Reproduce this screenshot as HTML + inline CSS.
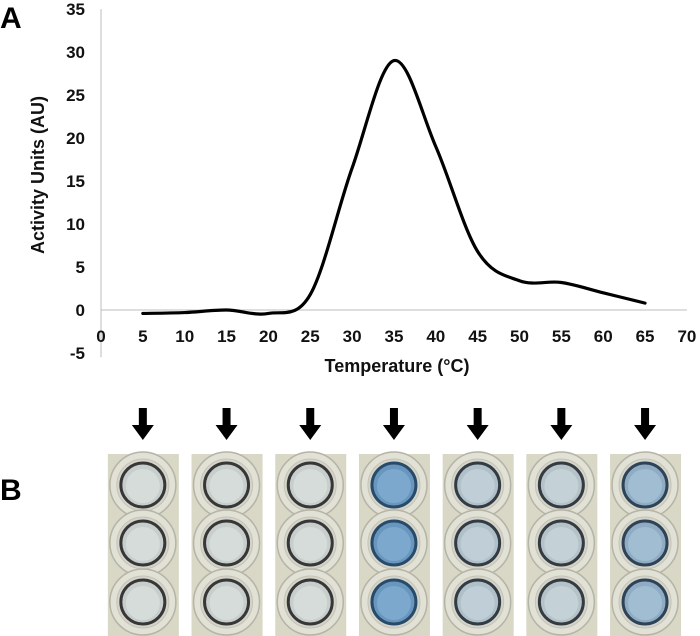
<!DOCTYPE html>
<html><head><meta charset="utf-8"><style>
html,body{margin:0;padding:0;background:#fff;}
svg{display:block;font-family:"Liberation Sans",sans-serif;}
</style></head><body>
<svg width="700" height="636" viewBox="0 0 700 636" id="chart">
<g id="axes"></g><g id="plot"></g><g id="wells"></g>
</svg>
<script>
const temps = [5,10,15,20,25,30,35,40,45,50,55,60,65];
const activity = [-0.4,-0.3,0.0,-0.4,1.8,16.5,29.0,19.0,6.8,3.4,3.2,2.0,0.8];
const xTicks = [0,5,10,15,20,25,30,35,40,45,50,55,60,65,70];
const yTicks = [35,30,25,20,15,10,5,0,-5];
const wellTemps = [5,15,25,35,45,55,65];
const wellBlue = [0,0,0,1,0.25,0.2,0.6];

const NS="http://www.w3.org/2000/svg";
const X=v=>101+v*8.37;
const Y=v=>310-v*8.6;
function mk(tag,attrs,parent){const e=document.createElementNS(NS,tag);for(const k in attrs)e.setAttribute(k,attrs[k]);parent.appendChild(e);return e;}
const axes=document.getElementById('axes'),plot=document.getElementById('plot'),wells=document.getElementById('wells');

let e=mk('line',{x1:X(0),y1:Y(35),x2:X(0),y2:Y(-5.5),stroke:'#bdbdbd','stroke-width':1},axes);


e=mk('line',{x1:X(0),y1:Y(0),x2:X(70),y2:Y(0),stroke:'#bdbdbd','stroke-width':1},axes);


yTicks.forEach(t=>{const el=mk('text',{x:85,y:Y(t)+6,'text-anchor':'end','font-size':17,'font-weight':'bold',fill:'#111'},axes);el.textContent=t;

});
xTicks.forEach(t=>{const el=mk('text',{x:X(t),y:342,'text-anchor':'middle','font-size':17,'font-weight':'bold',fill:'#111'},axes);el.textContent=t;

});
e=mk('text',{x:397,y:372,'text-anchor':'middle','font-size':18,'font-weight':'bold',fill:'#111'},axes);e.textContent='Temperature (°C)';


e=mk('text',{x:44,y:175,'text-anchor':'middle','font-size':18,'font-weight':'bold',fill:'#111',transform:'rotate(-90 44 175)'},axes);e.textContent='Activity Units (AU)';


e=mk('text',{x:0,y:28,'font-size':30,'font-weight':'bold',fill:'#000'},axes);e.textContent='A';


e=mk('text',{x:0,y:500,'font-size':30,'font-weight':'bold',fill:'#000'},axes);e.textContent='B';



const pts=temps.map((t,i)=>[X(t),Y(activity[i])]);
let d='M'+pts[0][0]+','+pts[0][1];
for(let i=0;i<pts.length-1;i++){const p0=pts[i-1]||pts[i],p1=pts[i],p2=pts[i+1],p3=pts[i+2]||p2;
const c1=[p1[0]+(p2[0]-p0[0])/6,p1[1]+(p2[1]-p0[1])/6],c2=[p2[0]-(p3[0]-p1[0])/6,p2[1]-(p3[1]-p1[1])/6];
d+=` C${c1[0]},${c1[1]} ${c2[0]},${c2[1]} ${p2[0]},${p2[1]}`;}
e=mk('path',{d:d,fill:'none',stroke:'#000','stroke-width':3.2,'stroke-linecap':'round'},plot);



function mix(a,b,f){return `rgb(${a.map((v,k)=>Math.round(v+(b[k]-v)*f)).join(',')})`;}
wellTemps.forEach((t,i)=>{
 const cx=X(t);
 const ar=mk('path',{d:`M${cx-4},408 h8 v17 h7 l-11,15 l-11,-15 h7 z`,fill:'#000'},wells);
 
 
 const g=mk('g',{},wells);
 
 
 mk('rect',{x:cx-35,y:454,width:71,height:182,fill:'#d9d7c6'},g);
 const b=wellBlue[i];
 [485,543,602].forEach(cy=>{
  mk('circle',{cx:cx,cy:cy,r:33,fill:'#e2e1d5',stroke:'#b5b4a6','stroke-width':1.5},g);
  mk('circle',{cx:cx,cy:cy,r:26,fill:'#d4d4cb',stroke:'#c4c3b6','stroke-width':1},g);
  mk('circle',{cx:cx,cy:cy,r:22,fill:mix([200,206,204],[105,150,190],b),stroke:mix([55,55,55],[40,75,105],b),'stroke-width':3},g);
  mk('circle',{cx:cx,cy:cy+1,r:17,fill:mix([214,220,218],[125,168,205],b)},g);
 });
});
</script>
</body></html>
